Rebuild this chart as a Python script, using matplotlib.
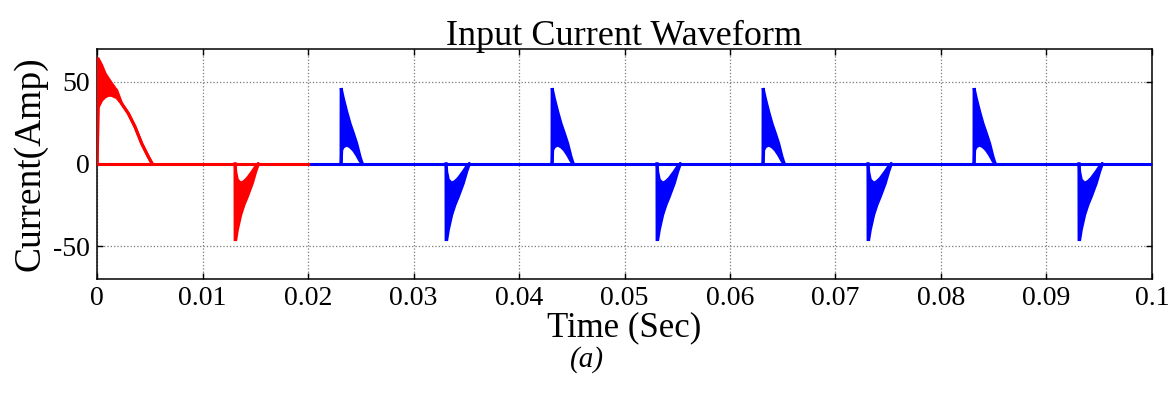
import numpy as np
import matplotlib
matplotlib.use("Agg")
import matplotlib.pyplot as plt

# ---- data ----
# initial (start-up) positive hump, red; time in s, envelope in A
red_t  = [0, 0.000005, 0.00012, 0.00044, 0.00076, 0.00107, 0.00139, 0.00171, 0.00186,
          0.00233, 0.00297, 0.00360, 0.00423, 0.00486, 0.00524]
red_hi = [0, 64.0, 64.0, 60.0, 55.0, 51.9, 48.9, 46.0, 44.8, 36.8, 30.7, 22.6, 12.5, 4.4, 0]
red_lo = [0, 0.0, 34.7, 38.8, 40.8, 41.8, 41.8, 40.8, 40.5, 36.8, 30.7, 22.6, 12.5, 4.4, 0]

# positive pulse shape (time after pulse start)
pos_dt = [0, 0.00001, 0.00006, 0.00022, 0.00054, 0.00085, 0.00117, 0.00148, 0.00180, 0.00202]
pos_hi = [0, 46.2, 44.5, 39.8, 31.7, 24.6, 18.6, 12.5, 4.4, 0]
pos_lo = [0, 0.0, 8.5, 10.5, 11.5, 10.5, 8.5, 5.5, 1.8, 0]

# negative pulse shape (time after pulse start)
neg_dt = [0, 0.00001, 0.00007, 0.00022, 0.00054, 0.00085, 0.00117, 0.00164, 0.00196, 0.00221]
neg_hi = [0, 0.0, -5.0, -9.7, -11.7, -10.7, -8.7, -4.6, -1.5, 0]
neg_lo = [0, -46.0, -46.0, -40.0, -30.9, -24.8, -19.8, -11.7, -4.6, 0]

red_neg_starts = [0.01308]
pos_starts = [0.02313, 0.04313, 0.06313, 0.08313]
neg_starts = [0.03308, 0.05308, 0.07308, 0.09308]

red_span = [0.0, 0.02]
blue_span = [0.02, 0.1]

xticks = [0, 0.01, 0.02, 0.03, 0.04, 0.05, 0.06, 0.07, 0.08, 0.09, 0.1]
xticklabels = ["0", "0.01", "0.02", "0.03", "0.04", "0.05", "0.06", "0.07", "0.08", "0.09", "0.1"]
yticks = [-50, 0, 50]
yticklabels = ["-50", "0", "50"]

# ---- figure ----
plt.rcParams['font.family'] = ['Liberation Serif', 'DejaVu Serif']
RED = '#ff0000'
BLUE = '#0000ff'
LW = 2.2

fig = plt.figure(figsize=(11.75, 3.96), dpi=100)
ax = fig.add_axes([0.0826, 0.2955, 0.8978, 0.5808])


def band(t, hi, lo, color):
    t = np.asarray(t)
    ax.fill_between(t, lo, hi, color=color, lw=0, zorder=3)
    ax.plot(t, hi, color=color, lw=LW, zorder=3, solid_joinstyle='miter')
    ax.plot(t, lo, color=color, lw=LW, zorder=3, solid_joinstyle='miter')


# baselines
ax.plot(red_span, [0, 0], color=RED, lw=LW, zorder=4)
ax.plot(blue_span, [0, 0], color=BLUE, lw=LW, zorder=3)

band(red_t, red_hi, red_lo, RED)
for s in red_neg_starts:
    band(np.asarray(neg_dt) + s, neg_hi, neg_lo, RED)
for s in pos_starts:
    band(np.asarray(pos_dt) + s, pos_hi, pos_lo, BLUE)
for s in neg_starts:
    band(np.asarray(neg_dt) + s, neg_hi, neg_lo, BLUE)

ax.set_xlim(0, 0.1)
ax.set_ylim(-70, 70)
ax.set_xticks(xticks)
ax.set_xticklabels(xticklabels)
ax.set_yticks(yticks)
ax.set_yticklabels(yticklabels)
ax.tick_params(direction='in', top=True, right=True, length=4, width=1,
               labelsize=20, pad=5)
ax.grid(True, linestyle=':', color='#7a7a7a', lw=0.9)
for sp in ax.spines.values():
    sp.set_linewidth(1.1)

ax.set_title("Input Current Waveform", fontsize=26, pad=3)
ax.set_xlabel("Time (Sec)", fontsize=25, labelpad=0)
ax.set_ylabel("Current(Amp)", fontsize=27, labelpad=4)

fig.text(0.5, 0.092, "(a)", fontsize=21, style='italic', ha='center', va='center')

fig.savefig("out.png", dpi=100)
